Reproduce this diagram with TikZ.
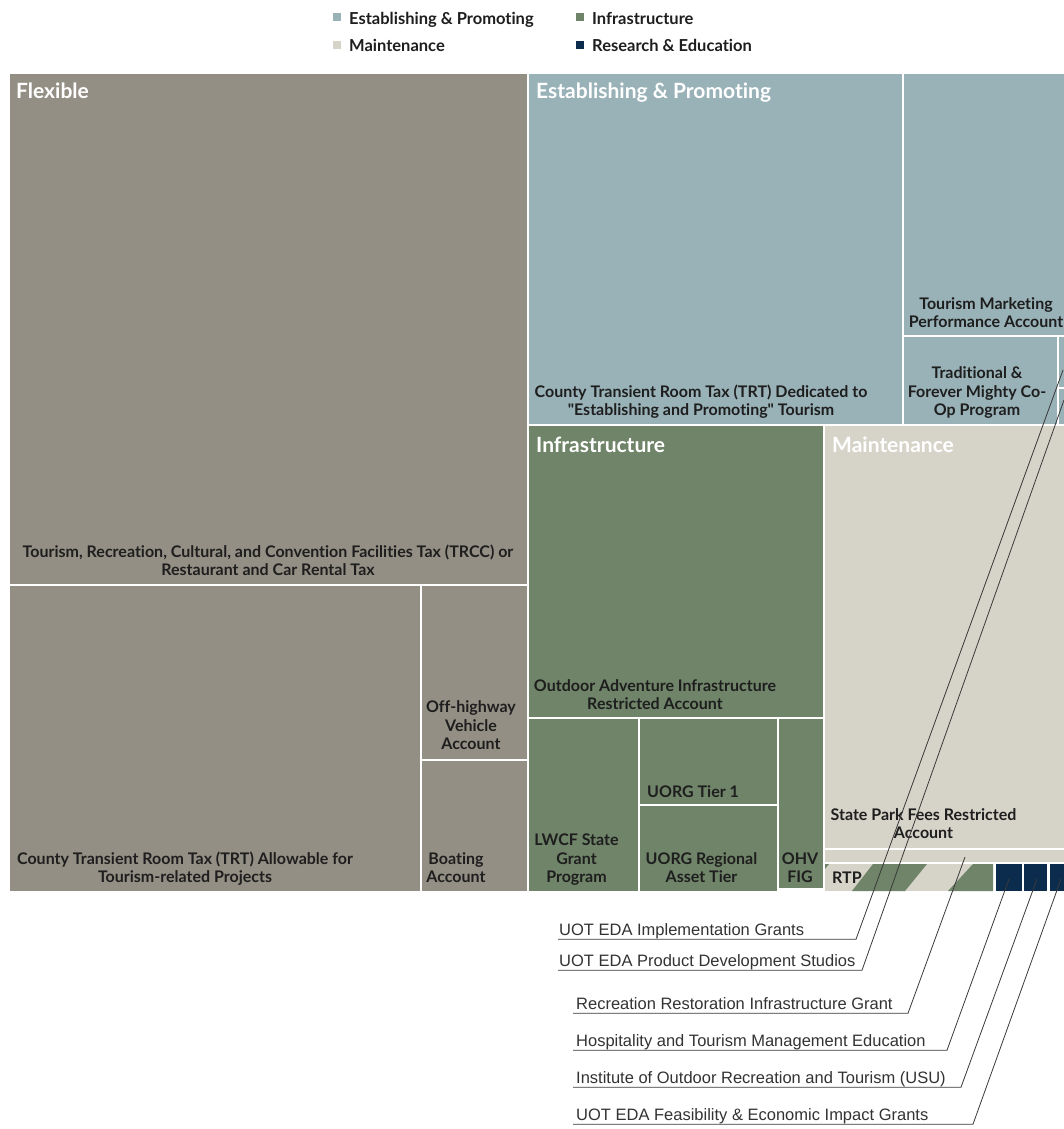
\documentclass[tikz,border=0pt]{standalone}
\usepackage{fontspec}
\setmainfont{Lato}[Ligatures={NoCommon}]
\newfontfamily\calloutfont{Liberation Sans}
\definecolor{cFlex}{HTML}{948F84}
\definecolor{cEst}{HTML}{99B2B8}
\definecolor{cInf}{HTML}{6F8468}
\definecolor{cMain}{HTML}{D6D3C9}
\definecolor{cRes}{HTML}{0B2C4D}
\definecolor{labelc}{HTML}{1E1E1E}
\definecolor{calltext}{HTML}{333333}
\definecolor{linec}{HTML}{3A3A3A}
\newcommand\lstrut{\rule[-5pt]{0pt}{5pt}}
\newcommand\tmbox[6]{\node[tm, fill=#6, minimum width={(#4-#2)*1pt}, minimum height={(#5-#3)*1pt}] (#1) at (#2,#3) {};}
\tikzset{
  tm/.style={anchor=north west, inner sep=0pt, outer sep=0pt, draw=none},
  lbl/.style={inner sep=0pt, anchor=south, align=center, text=labelc, font=\fontsize{16}{18.5}\selectfont\bfseries},
  lblw/.style={inner sep=0pt, anchor=base west, text=labelc, font=\fontsize{16}{18.5}\selectfont\bfseries},
  hdr/.style={inner sep=0pt, anchor=base west, text=white, font=\fontsize{21}{24}\selectfont\bfseries},
  legtxt/.style={inner sep=0pt, anchor=base west, text=labelc, font=\fontsize{16.5}{18}\selectfont\bfseries},
  legsq/.style={inner sep=0pt, minimum size=8pt, draw=none},
  call/.style={inner sep=0pt, anchor=base west, text depth=4pt, text=calltext, font=\calloutfont\fontsize{16.5}{19}\selectfont},
  cline/.style={draw=linec, line width=0.8pt},
}
\begin{document}
\begin{tikzpicture}[x=1pt,y=-1pt]
\useasboundingbox (0,0) rectangle (1064,1129);
\fill[white] (0,0) rectangle (1064,1129);

% legend
\node[legsq, fill=cEst] (lq1) at (337,17.5) {};
\node[legtxt] (lt1) at (349,25) {Establishing \& Promoting};
\node[legsq, fill=cInf] (lq2) at (580,17.5) {};
\node[legtxt] (lt2) at (592,25) {Infrastructure};
\node[legsq, fill=cMain] (lq3) at (337,45.5) {};
\node[legtxt] (lt3) at (349,51.7) {Maintenance};
\node[legsq, fill=cRes] (lq4) at (580,45.5) {};
\node[legtxt] (lt4) at (592,51.7) {Research \& Education};

% Flexible
\tmbox{fx1}{10}{74}{527}{584}{cFlex}
\tmbox{fx2}{10}{586}{420}{891}{cFlex}
\tmbox{fx3}{422}{586}{527}{759}{cFlex}
\tmbox{fx4}{422}{761}{527}{891}{cFlex}
% Establishing & Promoting
\tmbox{ep1}{529}{74}{902}{424}{cEst}
\tmbox{ep2}{904}{74}{1064}{335}{cEst}
\tmbox{ep3}{904}{337}{1057}{424}{cEst}
\tmbox{ep4}{1059}{337}{1064}{387}{cEst}
\tmbox{ep5}{1059}{389}{1064}{424}{cEst}
% Infrastructure
\tmbox{in1}{529}{426}{823}{717}{cInf}
\tmbox{in2}{529}{719}{638}{891}{cInf}
\tmbox{in3}{640}{719}{777}{804}{cInf}
\tmbox{in4}{640}{806}{777}{891}{cInf}
\tmbox{in5}{779}{719}{823}{888}{cInf}
% Maintenance
\tmbox{ma1}{825}{426}{1064}{848}{cMain}
\tmbox{ma2}{825}{850}{1064}{862}{cMain}
\tmbox{rtp}{825}{864}{993}{891}{cMain}
\fill[cInf] (825,864) -- (829,864) -- (825,869) -- cycle;
\fill[cInf] (852,891) -- (873,864) -- (927,864) -- (905,891) -- cycle;
\fill[cInf] (948,891) -- (973,864) -- (993,864) -- (993,891) -- cycle;
% Research & Education
\tmbox{re1}{996}{864}{1022}{891}{cRes}
\tmbox{re2}{1024}{864}{1047}{891}{cRes}
\tmbox{re3}{1050}{864}{1064}{891}{cRes}

% headers
\node[hdr] (hFlex) at (16,99) {Flexible};
\node[hdr] (hEst) at (536,99) {Establishing \& Promoting};
\node[hdr] (hInf) at (536,452) {Infrastructure};
\node[hdr] (hMain) at (832,452) {Maintenance};

% box labels
\node[lbl] (l1) at (268,581) {Tourism, Recreation, Cultural, and Convention Facilities Tax (TRCC) or\\Restaurant and Car Rental Tax\lstrut};
\node[lbl] (l2) at (185,888) {County Transient Room Tax (TRT) Allowable for\\Tourism-related Projects\lstrut};
\node[lbl] (l3) at (471,755) {Off-highway\\Vehicle\\Account\lstrut};
\node[lbl] (l4) at (456,888) {Boating\\Account\lstrut};
\node[lbl] (l5) at (701,421) {County Transient Room Tax (TRT) Dedicated to\\\textquotedbl Establishing and Promoting\textquotedbl{} Tourism\lstrut};
\node[lbl] (l6) at (986,333) {Tourism Marketing\\Performance Account\lstrut};
\node[lbl] (l7) at (977,421) {Traditional \&\\Forever Mighty Co-\\Op Program\lstrut};
\node[lbl] (l8) at (655,715) {Outdoor Adventure Infrastructure\\Restricted Account\lstrut};
\node[lbl] (l9) at (576.5,888) {LWCF State\\Grant\\Program\lstrut};
\node[lblw] (l10) at (647,797) {UORG Tier 1};
\node[lbl] (l11) at (701.5,888) {UORG Regional\\Asset Tier\lstrut};
\node[lbl] (l12) at (800,888) {OHV\\FIG\lstrut};
\node[lbl] (l13) at (923.5,844) {State Park Fees Restricted\\Account\lstrut};
\node[lblw] (l14) at (832,883) {RTP};

% callouts
\node[call] (c1) at (559,935) {UOT EDA Implementation Grants};
\node[call] (c2) at (559,966) {UOT EDA Product Development Studios};
\node[call] (c3) at (576,1009) {Recreation Restoration Infrastructure Grant};
\node[call] (c4) at (576,1046) {Hospitality and Tourism Management Education};
\node[call] (c5) at (576,1083) {Institute of Outdoor Recreation and Tourism (USU)};
\node[call] (c6) at (576,1120) {UOT EDA Feasibility \& Economic Impact Grants};

\coordinate (u1) at (856,939);
\coordinate (u2) at (862,970);
\coordinate (u3) at (908,1013);
\coordinate (u4) at (947,1050);
\coordinate (u5) at (961,1087);
\coordinate (u6) at (973,1124);

\coordinate (t1) at (1063,370);
\coordinate (t2) at (1064,400);
\coordinate (t3) at (965,857);
\coordinate (t4) at (1009,879);
\coordinate (t5) at (1037,879);
\coordinate (t6) at (1061,879);

\draw[cline] ([xshift=-1pt]c1.south west) -- (c1.south west -| u1) -- (t1);
\draw[cline] ([xshift=-1pt]c2.south west) -- (c2.south west -| u2) -- (t2);
\draw[cline] ([xshift=-3pt]c3.south west) -- (c3.south west -| u3) -- (t3);
\draw[cline] ([xshift=-3pt]c4.south west) -- (c4.south west -| u4) -- (t4);
\draw[cline] ([xshift=-3pt]c5.south west) -- (c5.south west -| u5) -- (t5);
\draw[cline] ([xshift=-3pt]c6.south west) -- (c6.south west -| u6) -- (t6);
\end{tikzpicture}
\end{document}
